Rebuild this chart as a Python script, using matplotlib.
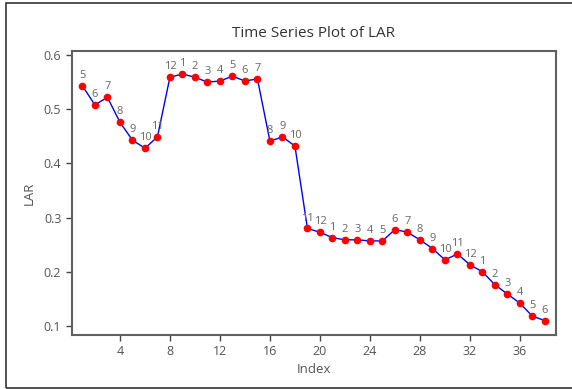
import matplotlib
matplotlib.use("Agg")
import matplotlib.pyplot as plt
from matplotlib.patches import Rectangle

# LAR values, index 1..38
lar = [0.543, 0.508, 0.522, 0.476, 0.443, 0.428, 0.449, 0.559, 0.565, 0.559,
       0.550, 0.552, 0.561, 0.552, 0.556, 0.441, 0.449, 0.432, 0.280, 0.273,
       0.263, 0.259, 0.259, 0.257, 0.257, 0.278, 0.273, 0.259, 0.243, 0.222,
       0.233, 0.213, 0.200, 0.176, 0.159, 0.142, 0.118, 0.110]
month = [5, 6, 7, 8, 9, 10, 11, 12, 1, 2, 3, 4, 5, 6, 7, 8, 9, 10, 11, 12,
         1, 2, 3, 4, 5, 6, 7, 8, 9, 10, 11, 12, 1, 2, 3, 4, 5, 6]
index = list(range(1, len(lar) + 1))
xticks = [4, 8, 12, 16, 20, 24, 28, 32, 36]
yticks = [0.1, 0.2, 0.3, 0.4, 0.5, 0.6]

plt.rcParams['font.family'] = ['Open Sans', 'DejaVu Sans']
grey = '#555555'

fig = plt.figure(figsize=(5.72, 3.89), dpi=100)
ax = fig.add_axes([0.1253, 0.1388, 0.8462, 0.7309])

ax.plot(index, lar, color='blue', lw=1, marker='o', ms=4.5,
        mfc='red', mec='red', zorder=3)
for i, v, m in zip(index, lar, month):
    ax.annotate(str(m), (i, v), xytext=(0, 3.5), textcoords='offset points',
                ha='center', va='bottom', fontsize=8, color='#666666')

ax.set_xlim(0.14, 38.86)
ax.set_ylim(0.0834, 0.608)
ax.set_xticks(xticks)
ax.set_yticks(yticks)
ax.set_yticklabels([f'{t:.1f}' for t in yticks])
ax.tick_params(colors='#444444', labelcolor=grey, labelsize=9, length=4, width=1)
for s in ax.spines.values():
    s.set_color('#606060')
    s.set_linewidth(1.5)

ax.set_title('Time Series Plot of LAR', fontsize=11, color='#333333', pad=10)
ax.set_xlabel('Index', fontsize=9.5, color=grey, labelpad=3)
ax.set_ylabel('LAR', fontsize=9.5, color=grey, labelpad=6)

# outer frame of the graph window
fig.patches.append(Rectangle((5.5 / 572, 1 / 389), 1.2, 385 / 389,
                             transform=fig.transFigure, fill=False,
                             edgecolor='#333333', lw=1.2))

fig.savefig('out.png', dpi=100)
